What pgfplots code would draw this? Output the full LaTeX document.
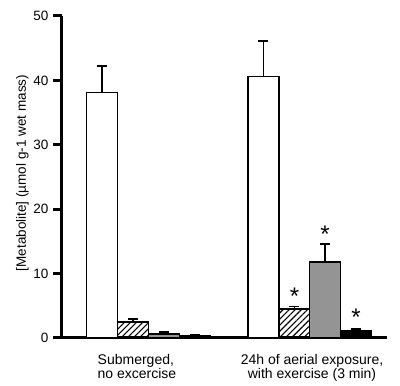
\documentclass[border=0pt]{standalone}
\usepackage{pgfplots}
\pgfplotsset{compat=1.18}
\usepackage{fontspec}
\setmainfont{Liberation Sans}
\usetikzlibrary{patterns.meta}
\begin{document}
\begin{tikzpicture}[x=1pt,y=1pt]
\useasboundingbox (-62,-48) rectangle (338,338);
\begin{axis}[
  at={(0,0)}, anchor=south west,
  scale only axis, width=325pt, height=322pt,
  xmin=0, xmax=325, ymin=0, ymax=50,
  axis x line=bottom, axis y line=left,
  axis line style={line width=3pt, -},
  ytick={0,10,20,30,40,50},
  ytick style={line width=3pt, black},
  tick align=outside, major tick length=9pt,
  xtick={75,250},
  xtick style={draw=none},
  xticklabels={{\begin{tabular}{@{}l@{}}Submerged,\\no excercise\end{tabular}},{\begin{tabular}{@{}c@{}}24h of aerial exposure,\\with exercise (3 min)\end{tabular}}},
  xticklabel style={yshift=-4pt, font=\fontsize{14}{12.5}\selectfont},
  yticklabel style={font=\fontsize{13.5}{16}\selectfont, xshift=-1pt},
  /pgf/number format/assume math mode=true,
  ylabel={[Metabolite] (µmol g-1 wet mass)},
  ylabel style={font=\fontsize{13.5}{15}\selectfont, yshift=-2pt, xshift=4pt},
  error bars/y dir=plus, error bars/y explicit,
  error bars/error mark options={rotate=90, mark size=5pt, line width=1.7pt},
  error bars/error bar style={line width=1.7pt},
  clip=false,
]
% white bars
\addplot[ybar, bar width=31, bar shift=0, fill=white, draw=black, line width=1.7pt]
  coordinates {(40,38.1) +- (0,4.1) (201.5,40.6) +- (0,5.5)};
% hatched bars
\addplot[ybar, bar width=31, bar shift=0, pattern={Lines[angle=45, distance=4.3pt, line width=1.1pt]}, draw=black, line width=1.7pt]
  coordinates {(71,2.5) +- (0,0.4) (232.5,4.5) +- (0,0.4)};
% grey bars
\addplot[ybar, bar width=31, bar shift=0, fill=black!42, draw=black, line width=1.7pt]
  coordinates {(102,0.57) +- (0,0.36) (263,11.85) +- (0,2.75)};
% black bars
\addplot[ybar, bar width=31, bar shift=0, fill=black, draw=black, line width=1.7pt]
  coordinates {(133,0.26) +- (0,0.16) (294,1.1) +- (0,0.3)};
% significance asterisks
\addplot[draw=none, mark=none, forget plot, error bars/y explicit=false, error bars/y dir=none,
  nodes near coords={*}, point meta=explicit symbolic,
  every node near coord/.append style={anchor=center, font=\fontsize{24}{24}\selectfont, yshift=-4pt}]
  coordinates {(232.5,7.1) [*] (263,16.7) [*] (294,3.8) [*]};
\end{axis}
\end{tikzpicture}
\end{document}
